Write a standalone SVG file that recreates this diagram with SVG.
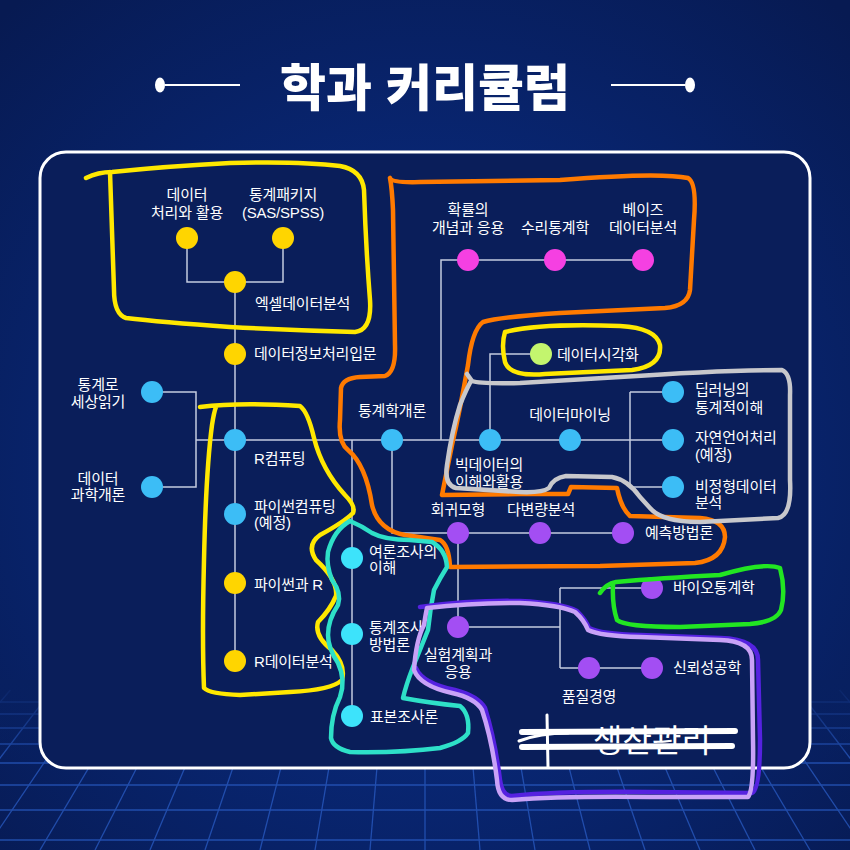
<svg xmlns="http://www.w3.org/2000/svg" width="850" height="850" viewBox="0 0 850 850">
<defs>
<radialGradient id="bg" cx="425" cy="470" r="620" gradientUnits="userSpaceOnUse">
<stop offset="0" stop-color="#0a3190"/>
<stop offset="1" stop-color="#071a52"/>
</radialGradient>
<linearGradient id="fade" x1="0" y1="680" x2="0" y2="760" gradientUnits="userSpaceOnUse">
<stop offset="0" stop-color="#082060" stop-opacity="1"/>
<stop offset="1" stop-color="#082060" stop-opacity="0"/>
</linearGradient>
<style>
text{font-family:"Liberation Sans","Noto Sans CJK KR",sans-serif;fill:#ffffff;font-size:15px;letter-spacing:-0.2px}
.m{text-anchor:middle}
.conn{fill:none;stroke:#c4cbe0;stroke-width:1.5}
.grid line{stroke:#2a5cc4;stroke-width:1.3}
.hand{fill:none;stroke-width:4.5;stroke-linecap:round;stroke-linejoin:round}
.y{fill:#ffd500}.b{fill:#3cbdf6}.c{fill:#3de3fb}.p{fill:#a34ef3}.mg{fill:#f540e2}.g{fill:#c3f56e}
</style>
</defs>
<rect width="850" height="850" fill="url(#bg)"/>
<g class="grid" opacity="0.75">
<line x1="10.4" y1="690" x2="-125" y2="850"/><line x1="51.9" y1="690" x2="-70" y2="850"/><line x1="93.3" y1="690" x2="-15" y2="850"/><line x1="134.8" y1="690" x2="40" y2="850"/><line x1="176.2" y1="690" x2="95" y2="850"/><line x1="217.7" y1="690" x2="150" y2="850"/><line x1="259.2" y1="690" x2="205" y2="850"/><line x1="300.6" y1="690" x2="260" y2="850"/><line x1="342.1" y1="690" x2="315" y2="850"/><line x1="383.5" y1="690" x2="370" y2="850"/><line x1="425" y1="690" x2="425" y2="850"/><line x1="466.5" y1="690" x2="480" y2="850"/><line x1="507.9" y1="690" x2="535" y2="850"/><line x1="549.4" y1="690" x2="590" y2="850"/><line x1="590.8" y1="690" x2="645" y2="850"/><line x1="632.3" y1="690" x2="700" y2="850"/><line x1="673.8" y1="690" x2="755" y2="850"/><line x1="715.2" y1="690" x2="810" y2="850"/><line x1="756.7" y1="690" x2="865" y2="850"/><line x1="798.1" y1="690" x2="920" y2="850"/><line x1="839.6" y1="690" x2="975" y2="850"/>
<line x1="0" y1="702" x2="850" y2="702"/><line x1="0" y1="714" x2="850" y2="714"/><line x1="0" y1="728" x2="850" y2="728"/><line x1="0" y1="744" x2="850" y2="744"/><line x1="0" y1="763" x2="850" y2="763"/><line x1="0" y1="785" x2="850" y2="785"/><line x1="0" y1="810" x2="850" y2="810"/><line x1="0" y1="840" x2="850" y2="840"/>
</g>
<rect x="0" y="680" width="850" height="80" fill="url(#fade)"/>
<g id="title">
<text x="425" y="106" class="m" style="font-size:50px;font-weight:900;letter-spacing:0px">학과 커리큘럼</text>
<line x1="165" y1="85" x2="240" y2="85" stroke="#ffffff" stroke-width="2"/>
<ellipse cx="160" cy="85" rx="5" ry="7.5" fill="#ffffff"/>
<line x1="611" y1="85" x2="685" y2="85" stroke="#ffffff" stroke-width="2"/>
<ellipse cx="690" cy="85" rx="5" ry="7.5" fill="#ffffff"/>
</g>
<rect id="panel" x="40" y="152" width="770" height="616" rx="26" fill="#0a1e5a" stroke="#ffffff" stroke-width="3"/>
<g id="connectors" class="conn">
<path d="M187,238 V282 H283 V238"/>
<path d="M235,282 V661"/>
<path d="M152,392 H196 V487 H152"/>
<path d="M196,440 H673"/>
<path d="M630,392 H673 M630,392 V487 H673"/>
<path d="M441,440 V260 H643"/>
<path d="M490,440 V354 H541"/>
<path d="M352,440 V716"/>
<path d="M392,440 V533 H623"/>
<path d="M458,533 V627 H560"/>
<path d="M560,588 V668 M560,588 H652 M560,668 H652"/>
</g>
<g id="n-data-proc"><circle cx="187" cy="238" r="11" class="y"/><text x="187" y="200" class="m">데이터</text><text x="187" y="218" class="m">처리와 활용</text></g>
<g id="n-stat-pkg"><circle cx="283" cy="238" r="11" class="y"/><text x="283" y="200" class="m">통계패키지</text><text x="283" y="218" class="m">(SAS/SPSS)</text></g>
<g id="n-excel"><circle cx="235" cy="282" r="11" class="y"/><text x="255" y="309">엑셀데이터분석</text></g>
<g id="n-info"><circle cx="235" cy="354" r="11" class="y"/><text x="254" y="359">데이터정보처리입문</text></g>
<g id="n-read"><circle cx="152" cy="392" r="11" class="b"/><text x="98" y="390" class="m">통계로</text><text x="98" y="407" class="m">세상읽기</text></g>
<g id="n-dsintro"><circle cx="152" cy="487" r="11" class="b"/><text x="98" y="484" class="m">데이터</text><text x="98" y="500" class="m">과학개론</text></g>
<g id="n-rcomp"><circle cx="235" cy="440" r="11" class="b"/><text x="254" y="464">R컴퓨팅</text></g>
<g id="n-pycomp"><circle cx="235" cy="514" r="11" class="b"/><text x="254" y="512">파이썬컴퓨팅</text><text x="254" y="528">(예정)</text></g>
<g id="n-pyr"><circle cx="235" cy="583" r="11" class="y"/><text x="254" y="590">파이썬과 R</text></g>
<g id="n-rdata"><circle cx="235" cy="661" r="11" class="y"/><text x="254" y="667">R데이터분석</text></g>
<g id="n-statintro"><circle cx="392" cy="440" r="11" class="b"/><text x="392" y="416" class="m">통계학개론</text></g>
<g id="n-prob"><circle cx="468" cy="260" r="11" class="mg"/><text x="468" y="215" class="m">확률의</text><text x="468" y="233" class="m">개념과 응용</text></g>
<g id="n-mathstat"><circle cx="555" cy="260" r="11" class="mg"/><text x="555" y="233" class="m">수리통계학</text></g>
<g id="n-bayes"><circle cx="643" cy="260" r="11" class="mg"/><text x="643" y="215" class="m">베이즈</text><text x="643" y="233" class="m">데이터분석</text></g>
<g id="n-bigdata"><circle cx="490" cy="440" r="11" class="b"/><text x="455" y="470">빅데이터의</text><text x="455" y="487">이해와활용</text></g>
<g id="n-vis"><circle cx="541" cy="354" r="11" class="g"/><text x="557" y="360">데이터시각화</text></g>
<g id="n-mining"><circle cx="570" cy="440" r="11" class="b"/><text x="570" y="420" class="m">데이터마이닝</text></g>
<g id="n-deep"><circle cx="673" cy="392" r="11" class="b"/><text x="695" y="395">딥러닝의</text><text x="695" y="413">통계적이해</text></g>
<g id="n-nlp"><circle cx="673" cy="440" r="11" class="b"/><text x="695" y="443">자연언어처리</text><text x="695" y="460">(예정)</text></g>
<g id="n-unstruct"><circle cx="673" cy="487" r="11" class="b"/><text x="695" y="492">비정형데이터</text><text x="695" y="508">분석</text></g>
<g id="n-reg"><circle cx="458" cy="533" r="11" class="p"/><text x="458" y="515" class="m">회귀모형</text></g>
<g id="n-multi"><circle cx="540" cy="533" r="11" class="p"/><text x="541" y="515" class="m">다변량분석</text></g>
<g id="n-pred"><circle cx="623" cy="533" r="11" class="p"/><text x="645" y="538">예측방법론</text></g>
<g id="n-poll"><circle cx="352" cy="558" r="11" class="c"/><text x="369" y="557">여론조사의</text><text x="369" y="573">이해</text></g>
<g id="n-survey"><circle cx="352" cy="634" r="11" class="c"/><text x="369" y="633">통계조사</text><text x="369" y="650">방법론</text></g>
<g id="n-sample"><circle cx="352" cy="716" r="11" class="c"/><text x="370" y="722">표본조사론</text></g>
<g id="n-exp"><circle cx="458" cy="627" r="11" class="p"/><text x="458" y="660" class="m">실험계획과</text><text x="458" y="677" class="m">응용</text></g>
<g id="n-bio"><circle cx="652" cy="588" r="11" class="p"/><text x="673" y="593">바이오통계학</text></g>
<g id="n-quality"><circle cx="589" cy="668" r="11" class="p"/><text x="589" y="702" class="m">품질경영</text></g>
<g id="n-reliab"><circle cx="652" cy="668" r="11" class="p"/><text x="673" y="673">신뢰성공학</text></g>
<g id="n-prod"><text x="652" y="752" class="m" style="font-size:32px;letter-spacing:0px">생산관리</text></g>
<g id="annotations">
<path class="hand" stroke="#ffe800" d="M86,178 Q98,172 112,172 Q170,166 230,163 Q300,161 340,166 Q362,170 364,190 Q366,250 370,300 Q372,330 355,332 Q290,330 230,327 Q160,322 126,318 Q114,314 114,290 Q112,230 110,172"/>
<path class="hand" stroke="#ff7a00" d="M390,178 Q392,183 420,182 L560,180 Q660,172 688,178 Q697,183 694,220 L690,290 Q688,306 665,308 L560,313 Q500,317 483,322 Q472,330 468,365 Q460,410 452,445 Q445,480 442,495 L520,494 L568,494 L571,487 L617,488 Q621,508 630,516 L700,518 Q725,520 725,537 Q723,560 695,563 L600,566 L450,567 Q449,545 440,540 L405,535 Q378,530 372,505 Q366,465 348,450 Q338,442 340,420 L341,388 Q343,378 360,377 L385,376 Q396,372 395,345 L393,210 Q392,188 390,178"/>
<path class="hand" stroke="#c8c8cc" d="M467,374 L472,381 Q480,384 520,383 L620,377 Q720,370 782,370 Q791,374 790,395 L790,480 Q792,515 778,518 L700,522 Q662,522 650,508 L640,497 Q628,480 612,477 L566,476 Q553,478 549,488 Q542,493 520,492 L456,488 Q444,485 447,465 Q452,430 460,405 Q466,390 471,381"/>
<path class="hand" stroke="#ffe800" d="M505,332 Q540,323 620,326 Q656,328 660,345 Q662,366 632,370 L545,374 Q510,377 505,362 Q501,345 505,332 Z"/>
<path class="hand" stroke="#ffe800" d="M200,407 Q240,402 300,406 Q308,412 314,438 Q322,470 345,495 Q356,506 353,513 Q344,522 320,535 Q306,545 316,560 Q338,580 336,596 Q330,610 318,622 Q314,636 332,650 Q346,665 342,680 Q332,690 290,692 L240,695 Q210,694 204,688 Q202,640 204,560 Q206,470 212,425 Q214,412 216,407"/>
<path class="hand" stroke="#2ee0c8" d="M350,521 Q362,526 372,533 Q385,540 410,540 L432,542 Q446,550 447,567 Q440,578 434,590 Q430,610 428,630 Q420,650 413,667 Q406,685 403,698 Q430,703 460,706 Q470,714 468,733 Q462,742 440,748 Q400,753 350,752 Q333,748 331,738 Q331,715 340,697 Q346,680 338,663 Q328,648 328,635 Q328,620 338,605 Q342,593 332,580 Q326,565 328,552 Q334,530 350,521"/>
<path class="hand" stroke="#22e622" d="M600,593 Q606,584 616,582 Q660,578 720,575 Q765,562 780,568 Q786,590 781,610 Q776,622 750,624 L680,627 Q625,627 617,620 Q612,605 613,585"/>
<path class="hand" stroke="#5522e0" d="M420,607 Q470,600 520,601 Q562,603 577,611 Q586,620 589,628 Q600,634 640,635 L720,638 Q758,639 758,660 L760,740 Q760,790 752,793 L650,792 Q560,791 512,796 Q502,796 500,780 Q495,740 485,708 Q478,696 455,690 Q422,683 416,668"/>
<path class="hand" stroke="#c9a2f7" d="M427,608 Q470,603 520,603 Q560,605 575,612 Q584,620 588,630 Q600,636 640,637 L720,640 Q752,641 752,660 L753,740 Q754,790 748,797 L650,797 Q560,796 512,800 Q498,800 497,780 Q492,740 482,710 Q475,698 452,693 Q420,686 414,670 Q416,640 424,625 Q426,612 427,608"/>
<g stroke="#ffffff" stroke-linecap="round" fill="none">
<path d="M522,732 L735,731" stroke-width="6"/>
<path d="M522,747 L732,746" stroke-width="6"/>
<path d="M547,715 L548,767" stroke-width="3"/>
<path d="M519,741 Q540,733 568,733" stroke-width="3"/>
</g>
</g>
</svg>
